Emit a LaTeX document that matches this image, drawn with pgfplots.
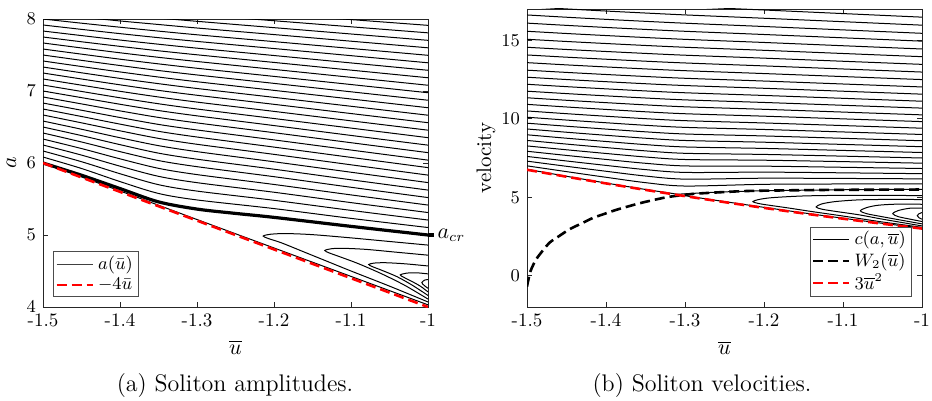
\documentclass[border=0pt]{standalone}
\usepackage{pgfplots}
\usepackage{pgfplotstable}
\pgfplotsset{compat=1.18}

\pgfplotstableread{
x k1 k2 k3 k4 k5 k6 k7 k8 k9 k10 k11 k12 k13 k14 k15 k16 k17 k18 k19 k20 k21 k22 k23 k24 k25 k26 k27 k28
-1.5 6.083 6.167 6.25 6.333 6.417 6.5 6.583 6.667 6.75 6.833 6.917 7.0 7.083 7.167 7.25 7.333 7.417 7.5 7.583 7.667 7.75 7.833 7.917 8.0 8.083 8.167 8.25 8.333
-1.45 5.924 6.018 6.110 6.201 6.292 6.381 6.469 6.558 6.646 6.733 6.821 6.908 6.994 7.081 7.167 7.253 7.340 7.426 7.512 7.598 7.684 7.770 7.856 7.942 8.027 8.114 8.199 8.285
-1.4 5.742 5.851 5.956 6.058 6.158 6.255 6.351 6.447 6.540 6.632 6.724 6.816 6.906 6.996 7.086 7.175 7.265 7.354 7.442 7.531 7.620 7.708 7.797 7.886 7.973 8.063 8.151 8.238
-1.35 5.577 5.699 5.815 5.926 6.034 6.137 6.241 6.342 6.440 6.536 6.633 6.729 6.823 6.917 7.009 7.102 7.194 7.285 7.377 7.468 7.559 7.650 7.741 7.832 7.924 8.014 8.104 8.194
-1.3 5.487 5.610 5.727 5.839 5.949 6.053 6.158 6.260 6.361 6.459 6.557 6.655 6.750 6.846 6.941 7.035 7.129 7.223 7.316 7.410 7.503 7.595 7.689 7.781 7.875 7.968 8.060 8.152
-1.2 5.367 5.482 5.594 5.702 5.810 5.914 6.017 6.120 6.221 6.321 6.421 6.520 6.618 6.717 6.815 6.912 7.009 7.106 7.203 7.300 7.397 7.493 7.590 7.686 7.784 7.880 7.976 8.072
-1.1 5.231 5.342 5.450 5.557 5.663 5.767 5.872 5.975 6.078 6.180 6.282 6.383 6.485 6.586 6.687 6.788 6.889 6.989 7.090 7.190 7.290 7.390 7.491 7.591 7.692 7.792 7.892 7.992
-1.0 5.104 5.208 5.312 5.416 5.52 5.624 5.728 5.832 5.936 6.04 6.144 6.248 6.352 6.456 6.56 6.664 6.768 6.872 6.976 7.08 7.184 7.288 7.392 7.496 7.6 7.704 7.808 7.912
}\lefttab

\pgfplotstableread{
x r1 r2 r3 r4 r5 r6 r7 r8 r9 r10 r11 r12 r13 r14 r15 r16 r17 r18 r19 r20 r21 r22 r23 r24 r25 r26
-1.5 7.0 7.3 7.6 7.93 8.27 8.62 8.98 9.35 9.72 10.1 10.5 10.92 11.34 11.76 12.2 12.65 13.1 13.58 14.07 14.56 15.07 15.58 16.1 16.62 17.15 17.7
-1.45 6.631 6.971 7.310 7.664 8.024 8.387 8.761 9.143 9.526 9.919 10.326 10.753 11.180 11.606 12.049 12.503 12.957 13.437 13.928 14.419 14.929 15.438 15.956 16.475 17.005 17.55
-1.4 6.271 6.654 7.028 7.408 7.789 8.165 8.553 8.948 9.344 9.748 10.163 10.597 11.029 11.462 11.909 12.366 12.824 13.306 13.798 14.291 14.799 15.307 15.824 16.340 16.870 17.412
-1.35 5.928 6.350 6.760 7.163 7.564 7.954 8.353 8.761 9.169 9.585 10.007 10.447 10.887 11.325 11.776 12.235 12.697 13.180 13.672 14.168 14.675 15.181 15.698 16.213 16.743 17.280
-1.3 5.713 6.153 6.581 6.995 7.404 7.799 8.204 8.617 9.031 9.453 9.880 10.322 10.764 11.206 11.659 12.120 12.583 13.067 13.559 14.054 14.561 15.065 15.579 16.094 16.623 17.157
-1.2 5.822 6.212 6.599 6.979 7.359 7.728 8.111 8.507 8.906 9.319 9.734 10.167 10.604 11.041 11.488 11.945 12.407 12.884 13.372 13.866 14.366 14.866 15.374 15.884 16.410 16.936
-1.1 5.844 6.197 6.555 6.908 7.269 7.618 7.983 8.366 8.755 9.161 9.568 9.995 10.428 10.861 11.305 11.758 12.218 12.692 13.176 13.668 14.163 14.658 15.163 15.668 16.191 16.708
-1.0 5.85 6.17 6.5 6.83 7.17 7.5 7.85 8.22 8.6 9.0 9.4 9.82 10.25 10.68 11.12 11.57 12.03 12.5 12.98 13.47 13.96 14.45 14.95 15.45 15.97 16.48
}\righttab

\pgfplotsset{
  base/.style={
    scale only axis, clip mode=individual,
    axis line style={black!85, line width=0.4pt},
    every tick/.style={black!85, line width=0.4pt},
    major tick length=2.5pt, tick align=inside,
    xmin=-1.5, xmax=-1,
    xtick={-1.5,-1.4,-1.3,-1.2,-1.1,-1},
    xticklabels={-1.5,-1.4,-1.3,-1.2,-1.1,-1},
    tick label style={font=\fontsize{9.5}{10}\selectfont},
    label style={font=\fontsize{10.5}{12}\selectfont},
    legend cell align=left,
    legend style={draw=black!70, line width=0.4pt, fill=white, inner sep=1pt,
      font=\fontsize{9}{10}\selectfont, row sep=0pt,
      nodes={inner ysep=1.2pt, inner xsep=2pt}},
    legend image code/.code={\draw[##1] (0pt,0pt) -- (18pt,0pt);},
  },
  cl/.style={black, line width=0.5pt, smooth, forget plot},
  reddash/.style={red, line width=1.3pt, dash pattern=on 5pt off 2.5pt},
  blkdash/.style={black, line width=1.3pt, dash pattern=on 5pt off 2.5pt},
}

\begin{document}
\begin{tikzpicture}
\useasboundingbox (0,0) rectangle (466pt,-200.5pt);

% ---------------- (a) ----------------
\begin{axis}[base,
  at={(21.5pt,-153.5pt)}, anchor=south west,
  width=192.5pt, height=144pt,
  ymin=4, ymax=8, ytick={4,5,6,7,8},
  xlabel={$\overline{u}$}, ylabel={$a$},
  xlabel style={at={(axis description cs:0.5,-0.14)}, anchor=center},
  ylabel style={at={(axis description cs:-0.082,0.5)}, anchor=center},
  legend style={at={(0.026,0.035)}, anchor=south west},
]
\pgfplotsinvokeforeach{1,...,28}{
  \addplot[cl] table[x=x, y=k#1] {\lefttab};
}
% lower separatrix branch hugging -4u
\addplot[cl] coordinates {(-1.5,6.0) (-1.4,5.612) (-1.3,5.215) (-1.2,4.82) (-1.1,4.425) (-1.0,4.03)};
% closed loops
\addplot[cl] coordinates {(-1.0,4.86) (-1.05,4.91) (-1.1,4.96) (-1.15,5.005) (-1.185,5.02) (-1.205,5.01) (-1.214,4.985) (-1.207,4.95) (-1.19,4.89) (-1.16,4.76) (-1.13,4.63) (-1.1,4.5) (-1.05,4.29) (-1.0,4.07)};
\addplot[cl] coordinates {(-1.0,4.72) (-1.04,4.76) (-1.08,4.8) (-1.11,4.815) (-1.125,4.81) (-1.134,4.785) (-1.128,4.75) (-1.115,4.7) (-1.09,4.6) (-1.06,4.46) (-1.03,4.3) (-1.0,4.11)};
\addplot[cl] coordinates {(-1.0,4.57) (-1.03,4.6) (-1.055,4.615) (-1.07,4.61) (-1.077,4.59) (-1.072,4.56) (-1.06,4.51) (-1.04,4.42) (-1.02,4.3) (-1.0,4.16)};
\addplot[cl] coordinates {(-1.0,4.46) (-1.015,4.475) (-1.028,4.47) (-1.036,4.445) (-1.031,4.41) (-1.02,4.35) (-1.01,4.29) (-1.0,4.21)};
\addplot[cl] coordinates {(-1.0,4.38) (-1.004,4.375) (-1.008,4.34) (-1.005,4.30) (-1.0,4.26)};
% critical curve
\addplot[black, line width=1.6pt, smooth, forget plot] coordinates {(-1.5,6.0) (-1.45,5.83) (-1.4,5.645) (-1.35,5.46) (-1.3,5.36) (-1.25,5.30) (-1.2,5.245) (-1.1,5.12) (-1.0,5.0)};
% -4u
\addplot[reddash, forget plot] coordinates {(-1.5,6.0) (-1.0,4.0)};
\addlegendimage{black!75, line width=0.5pt}
\addlegendentry{$a(\bar{u})$}
\addlegendimage{reddash}
\addlegendentry{$-4\bar{u}$}
\draw[line width=1.6pt] (axis cs:-1.0,5) -- ++(3pt,0pt) node[anchor=west, inner sep=1pt, font=\fontsize{10.5}{12}\selectfont] {$a_{cr}$};
\end{axis}

% ---------------- (b) ----------------
\begin{axis}[base,
  at={(263.5pt,-153.5pt)}, anchor=south west,
  width=197.5pt, height=149pt,
  ymin=-2, ymax=17, ytick={0,5,10,15},
  xlabel={$\overline{u}$}, ylabel={velocity},
  xlabel style={at={(axis description cs:0.5,-0.138)}, anchor=center},
  ylabel style={at={(axis description cs:-0.104,0.5)}, anchor=center},
  legend style={at={(0.975,0.033)}, anchor=south east},
]
\pgfplotsinvokeforeach{1,...,26}{
  \addplot[cl] table[x=x, y=r#1] {\righttab};
}
% separatrix: along 3u^2 then along W2
\addplot[cl] coordinates {(-1.5,6.78) (-1.45,6.335) (-1.4,5.905) (-1.35,5.495) (-1.32,5.27) (-1.31,5.19)};
\addplot[cl] coordinates {(-1.31,5.19) (-1.28,5.27) (-1.25,5.34) (-1.2,5.41) (-1.1,5.475) (-1.0,5.505)};
\addplot[cl] coordinates {(-1.31,5.17) (-1.25,4.72) (-1.2,4.355) (-1.15,4.0) (-1.1,3.66) (-1.05,3.335) (-1.0,3.03)};
% closed loops
\addplot[cl] coordinates {(-1.0,5.10) (-1.05,5.12) (-1.1,5.12) (-1.15,5.08) (-1.19,4.97) (-1.207,4.85) (-1.214,4.72) (-1.207,4.60) (-1.195,4.50) (-1.17,4.32) (-1.14,4.09) (-1.1,3.80) (-1.05,3.42) (-1.0,3.08)};
\addplot[cl] coordinates {(-1.0,4.85) (-1.04,4.86) (-1.08,4.83) (-1.11,4.72) (-1.127,4.57) (-1.134,4.38) (-1.127,4.24) (-1.11,4.10) (-1.08,3.88) (-1.05,3.60) (-1.0,3.17)};
\addplot[cl] coordinates {(-1.0,4.55) (-1.03,4.56) (-1.055,4.49) (-1.07,4.34) (-1.078,4.13) (-1.07,3.95) (-1.055,3.80) (-1.03,3.57) (-1.0,3.30)};
\addplot[cl] coordinates {(-1.0,4.30) (-1.015,4.30) (-1.03,4.15) (-1.037,3.95) (-1.03,3.76) (-1.015,3.60) (-1.0,3.45)};
\addplot[cl] coordinates {(-1.0,4.02) (-1.004,3.94) (-1.006,3.82) (-1.004,3.70) (-1.0,3.60)};
% W2
\addplot[blkdash, smooth, forget plot] coordinates {(-1.5,-0.7) (-1.498,-0.2) (-1.496,0.23) (-1.492,0.7) (-1.488,1.07) (-1.48,1.6) (-1.471,2.12) (-1.46,2.5) (-1.446,2.96) (-1.43,3.35) (-1.416,3.69) (-1.4,3.97) (-1.386,4.21) (-1.37,4.44) (-1.353,4.67) (-1.323,5.0) (-1.3,5.15) (-1.285,5.23) (-1.25,5.33) (-1.218,5.40) (-1.15,5.45) (-1.1,5.47) (-1.0,5.49)};
% 3u^2
\addplot[reddash, smooth, forget plot] coordinates {(-1.5,6.75) (-1.45,6.3075) (-1.4,5.88) (-1.35,5.4675) (-1.3,5.07) (-1.25,4.6875) (-1.2,4.32) (-1.15,3.9675) (-1.1,3.63) (-1.05,3.3075) (-1.0,3.0)};
\addlegendimage{black, line width=0.5pt}
\addlegendentry{$c(a,\overline{u})$}
\addlegendimage{blkdash}
\addlegendentry{$W_2(\overline{u})$}
\addlegendimage{reddash}
\addlegendentry{$3\overline{u}^2$}
\end{axis}

\node[font=\fontsize{12}{14}\selectfont] at (117.5pt,-193pt) {(a) Soliton amplitudes.};
\node[font=\fontsize{12}{14}\selectfont] at (351pt,-193pt) {(b) Soliton velocities.};
\end{tikzpicture}
\end{document}
